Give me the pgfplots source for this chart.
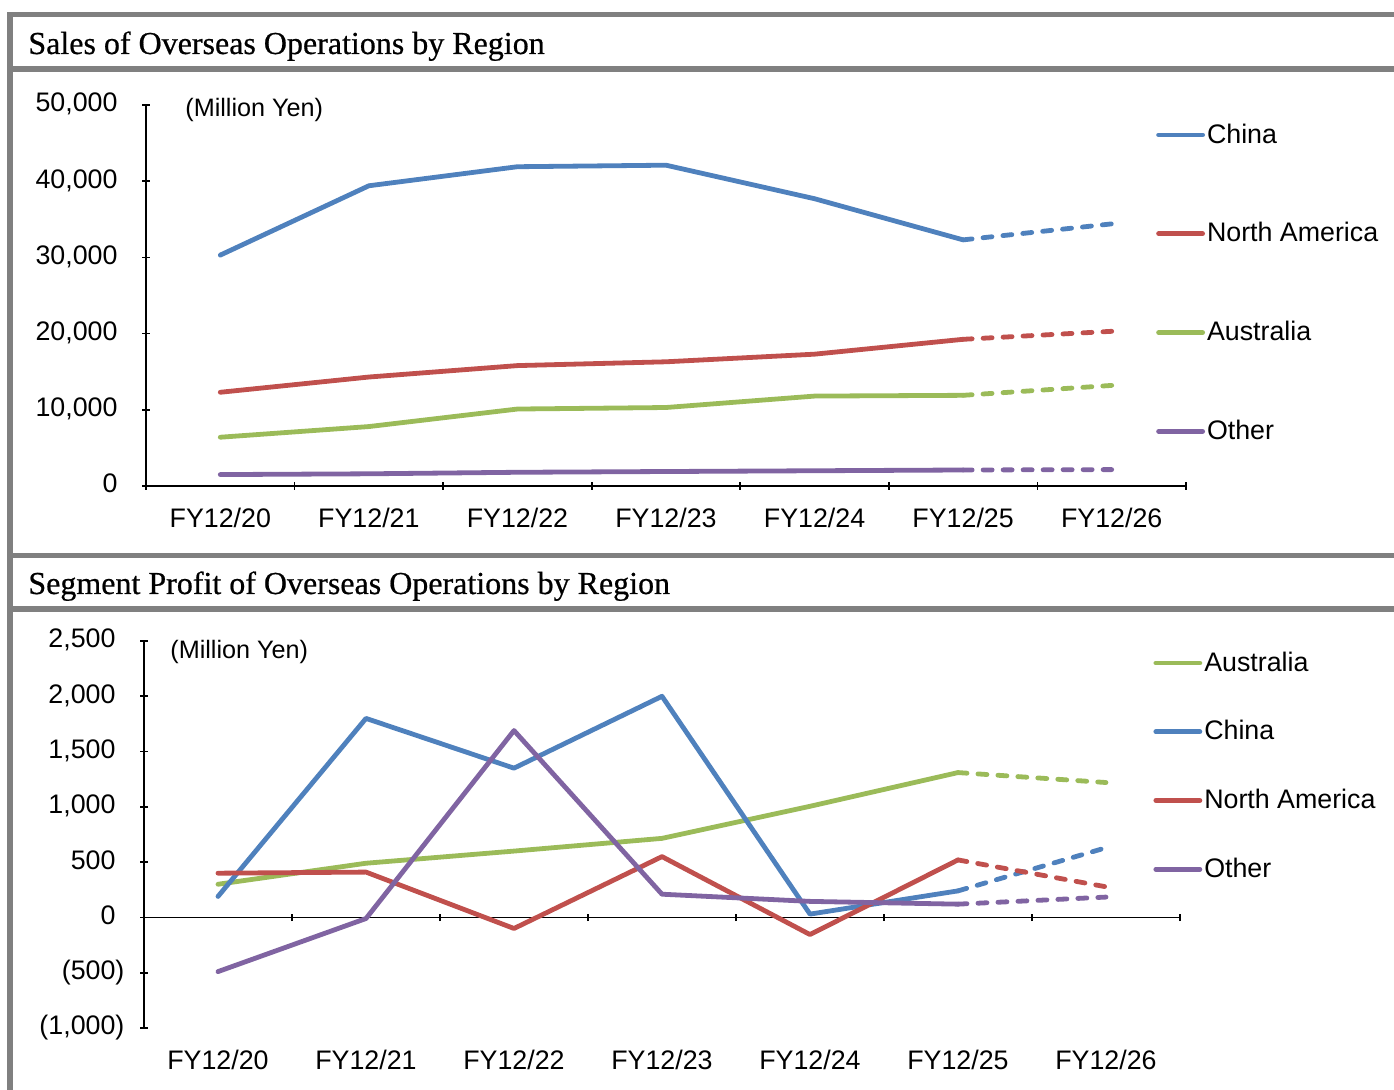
\documentclass[border=0pt]{standalone}
\usepackage{pgfplots}
\pgfplotsset{compat=1.18}
\usepackage{fontspec}
\setmainfont{Liberation Sans}
\newfontfamily\titlefont[FakeBold=0.6]{Liberation Serif}
\definecolor{cChina}{HTML}{4F81BD}
\definecolor{cNA}{HTML}{C0504D}
\definecolor{cAus}{HTML}{9BBB59}
\definecolor{cOth}{HTML}{8064A2}
\definecolor{frameg}{HTML}{808080}
\pgfplotsset{
  myaxis/.style={
    scale only axis,
    xmin=-0.5, xmax=6.5,
    scaled y ticks=false,
    xtick={0,...,6},
    xticklabels={FY12/20,FY12/21,FY12/22,FY12/23,FY12/24,FY12/25,FY12/26},
    minor xtick={-0.5,0.5,...,6.5},
    tick align=outside,
    major tick length=3.8pt,
    minor tick length=3.8pt,
    major x tick style={draw=none},
    every tick/.style={black, line width=0.8pt},
    tick label style={font=\fontsize{13.4}{16}\selectfont},
    /pgf/number format/assume math mode=true,
    yticklabel style={anchor=east, inner sep=0pt, xshift=-7.7pt},
    legend cell align=left,
    legend image code/.code={\draw[##1, line width=2.4pt, line cap=round] (0pt,0pt) -- (22pt,0pt);},
  },
  fixlines/.style={
    every outer x axis line/.append style={-, black, line width=0.8pt},
    every inner x axis line/.append style={-, black, line width=0.8pt},
    every outer y axis line/.append style={-, black, line width=0.8pt},
    every inner y axis line/.append style={-, black, line width=0.8pt},
    axis line style={-, black, line width=0.8pt},
  },
  solid line/.style={line width=2.4pt, line join=round, line cap=round},
  dash line/.style={line width=2.4pt, line cap=round, dash pattern=on 4.5pt off 5.5pt, forget plot},
}
\begin{document}
\begin{tikzpicture}
\path[use as bounding box] (0pt,0pt) rectangle (697pt,-545pt);
% frame
\fill[frameg] (3.5pt,-6pt) rectangle (697pt,-8.5pt);
\fill[frameg] (3.5pt,-6pt) rectangle (6.5pt,-545pt);
\fill[frameg] (3.5pt,-33pt) rectangle (697pt,-36pt);
\fill[frameg] (3.5pt,-276.5pt) rectangle (697pt,-279pt);
\fill[frameg] (3.5pt,-303pt) rectangle (697pt,-306pt);
\node[anchor=base west, inner sep=0pt, font=\titlefont\fontsize{16}{19}\selectfont] at (14pt,-27pt) {Sales of Overseas Operations by Region};
\node[anchor=base west, inner sep=0pt, font=\titlefont\fontsize{16}{19}\selectfont] at (14pt,-297pt) {Segment Profit of Overseas Operations by Region};

% ---- top axis
\begin{axis}[myaxis,
  at={(73pt,-243pt)}, anchor=south west,
  width=520pt, height=190.5pt,
  axis x line=bottom, axis y line=left, fixlines,
  ymin=0, ymax=50000,
  ytick={0,10000,20000,30000,40000,50000},
  yticklabels={0\phantom{)},{10,000\phantom{)}},{20,000\phantom{)}},{30,000\phantom{)}},{40,000\phantom{)}},{50,000\phantom{)}}},
  xticklabel style={anchor=center, yshift=-14pt},
  legend style={draw=none, fill=none, at={(0.971,0.952)}, anchor=north west,
    inner sep=0pt, row sep=38.2pt, column sep=1pt,
    nodes={inner sep=0pt, font=\fontsize{13.4}{16}\selectfont}},
]
\addplot[cChina, solid line] coordinates {(0,30300)(1,39400)(2,41900)(3,42100)(4,37700)(5,32300)};
\addlegendentry{China}
\addplot[cChina, dash line] coordinates {(5,32300)(6,34400)};
\addplot[cNA, solid line] coordinates {(0,12300)(1,14300)(2,15800)(3,16300)(4,17300)(5,19250)};
\addlegendentry{North America}
\addplot[cNA, dash line] coordinates {(5,19250)(6,20300)};
\addplot[cAus, solid line] coordinates {(0,6400)(1,7800)(2,10100)(3,10300)(4,11800)(5,11900)};
\addlegendentry{Australia}
\addplot[cAus, dash line] coordinates {(5,11900)(6,13200)};
\addplot[cOth, solid line] coordinates {(0,1500)(1,1600)(2,1800)(3,1900)(4,2000)(5,2100)};
\addlegendentry{Other}
\addplot[cOth, dash line] coordinates {(5,2100)(6,2150)};
\end{axis}
\node[anchor=west, inner sep=0pt, font=\fontsize{12.6}{15}\selectfont] at (92.5pt,-55pt) {(Million Yen)};

% ---- bottom axis
\begin{axis}[myaxis,
  at={(72pt,-514pt)}, anchor=south west,
  width=518pt, height=193.5pt,
  axis x line=middle, axis y line=left, fixlines,
  ymin=-1000, ymax=2500,
  ytick={-1000,-500,0,500,1000,1500,2000,2500},
  yticklabels={{(1,000)},{(500)},0\phantom{)},500\phantom{)},{1,000\phantom{)}},{1,500\phantom{)}},{2,000\phantom{)}},{2,500\phantom{)}}},
  xticklabel style={anchor=center, yshift=-69.5pt},
  legend style={draw=none, fill=none, at={(0.974,0.973)}, anchor=north west,
    inner sep=0pt, row sep=23.15pt, column sep=1pt,
    nodes={inner sep=0pt, font=\fontsize{13.4}{16}\selectfont}},
]
\addplot[cAus, solid line] coordinates {(0,300)(1,490)(2,600)(3,715)(4,1005)(5,1310)};
\addlegendentry{Australia}
\addplot[cAus, dash line] coordinates {(5,1310)(6,1220)};
\addplot[cChina, solid line] coordinates {(0,190)(1,1800)(2,1350)(3,2000)(4,30)(5,240)};
\addlegendentry{China}
\addplot[cChina, dash line] coordinates {(5,240)(6,630)};
\addplot[cNA, solid line] coordinates {(0,400)(1,410)(2,-100)(3,550)(4,-155)(5,520)};
\addlegendentry{North America}
\addplot[cNA, dash line] coordinates {(5,520)(6,277)};
\addplot[cOth, solid line] coordinates {(0,-490)(1,-10)(2,1690)(3,210)(4,145)(5,120)};
\addlegendentry{Other}
\addplot[cOth, dash line] coordinates {(5,120)(6,184)};
\end{axis}
\node[anchor=west, inner sep=0pt, font=\fontsize{12.6}{15}\selectfont] at (85pt,-326pt) {(Million Yen)};
\end{tikzpicture}
\end{document}
